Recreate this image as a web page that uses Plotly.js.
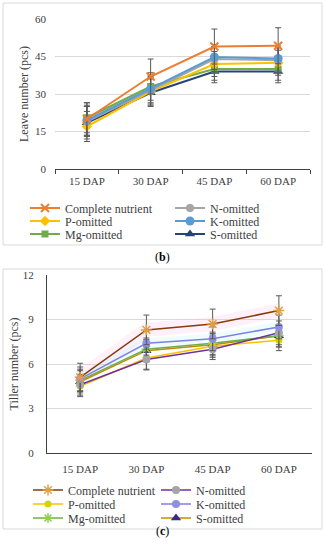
<!DOCTYPE html>
<html>
<head>
<meta charset="utf-8">
<script src="https://cdn.plot.ly/plotly-3.0.1.min.js"></script>
<style>html,body{margin:0;padding:0;background:#fff;}#chart{width:325px;height:550px;}</style>
</head>
<body>
<div id="chart"></div>
<script>
// ---- data ----
const categories = ["15 DAP", "30 DAP", "45 DAP", "60 DAP"];
const seriesNames = ["Complete nutrient", "N-omitted", "P-omitted", "K-omitted", "Mg-omitted", "S-omitted"];

// (b) Leave number (pcs)
const leafComplete = [20.0, 37.0, 49.0, 49.3];
const leafN        = [19.0, 31.5, 44.0, 43.5];
const leafP        = [17.0, 31.0, 42.0, 42.5];
const leafK        = [19.5, 32.0, 44.8, 44.2];
const leafMg       = [20.5, 33.0, 40.0, 40.0];
const leafS        = [18.5, 30.5, 39.0, 39.0];
const leafErrComplete = [6.5, 7.0, 7.0, 7.2];
const leafErrN        = [6.0, 5.5, 5.0, 5.0];
const leafErrP        = [6.0, 5.5, 5.0, 5.0];
const leafErrK        = [6.0, 5.5, 5.0, 5.0];
const leafErrMg       = [6.0, 5.5, 4.5, 4.5];
const leafErrS        = [6.5, 5.5, 4.5, 4.5];

// (c) Tiller number (pcs)
const tilComplete = [5.1, 8.3, 8.7, 9.6];
const tilN        = [4.6, 6.3, 7.0, 8.1];
const tilP        = [4.5, 6.4, 7.2, 7.6];
const tilK        = [5.0, 7.4, 7.7, 8.5];
const tilMg       = [4.9, 7.0, 7.4, 7.9];
const tilS        = [4.8, 6.9, 7.3, 7.9];
const tilErrComplete = [0.95, 1.0, 1.0, 1.0];
const tilErrN        = [0.7, 0.7, 0.7, 0.8];
const tilErrP        = [0.7, 0.75, 0.75, 0.7];
const tilErrK        = [0.8, 0.8, 0.8, 0.8];
const tilErrMg       = [0.75, 0.75, 0.75, 0.75];
const tilErrS        = [0.75, 0.75, 0.75, 0.75];

const leafTicks = [0, 15, 30, 45, 60];
const tilTicks = [0, 3, 6, 9, 12];

// ---- styles ----
const W = 325, H = 550;
const px = v => v / W;
const py = v => 1 - v / H;
const serif = "Liberation Serif, DejaVu Serif, serif";
const errStyle = arr => ({type: "data", array: arr, visible: true, color: "#595959", thickness: 1, width: 3});

const leafStyles = [
  {line: "#ED7D31", marker: {symbol: "x-thin-open", color: "#ED7D31", size: 8, line: {width: 2, color: "#ED7D31"}}},
  {line: "#A5A5A5", marker: {symbol: "circle", color: "#A5A5A5", size: 8}},
  {line: "#FFC000", marker: {symbol: "diamond", color: "#FFC000", size: 8}},
  {line: "#5B9BD5", marker: {symbol: "circle", color: "#5B9BD5", size: 9}},
  {line: "#70AD47", marker: {symbol: "square", color: "#70AD47", size: 7}},
  {line: "#264478", marker: {symbol: "triangle-up", color: "#264478", size: 9}}
];
const tilStyles = [
  {line: "#843C0C", marker: {symbol: "asterisk-open", color: "#E0A040", size: 9, line: {width: 1.5, color: "#E0A040"}}},
  {line: "#7030A0", marker: {symbol: "circle", color: "#A5A5A5", size: 8}},
  {line: "#FFC000", marker: {symbol: "circle", color: "#D4D400", size: 7}},
  {line: "#8080E0", marker: {symbol: "circle", color: "#8F8FE0", size: 8}},
  {line: "#70AD47", marker: {symbol: "asterisk-open", color: "#92D050", size: 8, line: {width: 1.5, color: "#92D050"}}},
  {line: "#BF8F00", marker: {symbol: "triangle-up", color: "#2F2F80", size: 9}}
];

const leafData = [leafComplete, leafN, leafP, leafK, leafMg, leafS];
const leafErr = [leafErrComplete, leafErrN, leafErrP, leafErrK, leafErrMg, leafErrS];
const tilData = [tilComplete, tilN, tilP, tilK, tilMg, tilS];
const tilErr = [tilErrComplete, tilErrN, tilErrP, tilErrK, tilErrMg, tilErrS];

// legend rows: each row is its own legend (two entries per row)
const leafLegendOf = ["legend", "legend", "legend3", "legend3", "legend4", "legend4"];
const tilLegendOf  = ["legend2", "legend2", "legend5", "legend5", "legend6", "legend6"];
const leafEntryW = [100, 60, 100, 60, 100, 60];
const tilEntryW  = [83, 60, 83, 60, 83, 60];

const traces = [];
// soft glow behind (c) lines
traces.push({x: categories, y: tilComplete, xaxis: "x2", yaxis: "y2", mode: "lines", showlegend: false, hoverinfo: "skip",
  line: {color: "rgba(255,170,230,0.18)", width: 14}});
traces.push({x: categories, y: tilK, xaxis: "x2", yaxis: "y2", mode: "lines", showlegend: false, hoverinfo: "skip",
  line: {color: "rgba(170,240,245,0.2)", width: 10}});

const order = [5, 4, 2, 1, 3, 0];
order.forEach(i => {
  traces.push({
    x: categories, y: leafData[i], name: seriesNames[i], type: "scatter", mode: "lines+markers",
    xaxis: "x", yaxis: "y", legend: leafLegendOf[i], legendrank: i + 1, legendwidth: leafEntryW[i],
    line: {color: leafStyles[i].line, width: 2},
    marker: leafStyles[i].marker,
    error_y: errStyle(leafErr[i])
  });
});
order.forEach(i => {
  traces.push({
    x: categories, y: tilData[i], name: seriesNames[i], type: "scatter", mode: "lines+markers",
    xaxis: "x2", yaxis: "y2", legend: tilLegendOf[i], legendrank: i + 1, legendwidth: tilEntryW[i],
    line: {color: tilStyles[i].line, width: 1.5},
    marker: tilStyles[i].marker,
    error_y: errStyle(tilErr[i])
  });
});

const tickFont = {family: serif, size: 11, color: "#404040"};
const legendFont = {family: serif, size: 12, color: "#404040"};
const rowLegend = (x, y) => ({
  orientation: "h", x: px(x), y: py(y), xanchor: "left", yanchor: "middle",
  entrywidthmode: "pixels", font: legendFont, bgcolor: "rgba(0,0,0,0)",
  itemwidth: 30, traceorder: "normal"
});

const layout = {
  width: W, height: H,
  margin: {l: 0, r: 0, t: 0, b: 0},
  paper_bgcolor: "#fff", plot_bgcolor: "rgba(0,0,0,0)",
  showlegend: true,
  font: {family: serif, color: "#404040"},
  xaxis: {
    domain: [px(55), px(310)], anchor: "y", type: "category", categoryarray: categories, range: [-0.5, 3.5],
    showgrid: false, showline: true, linecolor: "#404040", linewidth: 1,
    ticks: "outside", tickson: "boundaries", ticklen: 4, tickcolor: "#404040",
    tickfont: tickFont, ticklabelstandoff: 2
  },
  yaxis: {
    domain: [py(169), py(19)], anchor: "x", range: [0, 60], tickvals: leafTicks, ticktext: leafTicks.map(String),
    showgrid: true, gridcolor: "#D9D9D9", zeroline: false, showline: false, ticks: "",
    ticklabelstandoff: 8, tickfont: tickFont,
    title: {text: "Leave number (pcs)", standoff: 3, font: {family: serif, size: 12, color: "#404040"}}
  },
  xaxis2: {
    domain: [px(47), px(312)], anchor: "y2", type: "category", categoryarray: categories, range: [-0.5, 3.5],
    showgrid: false, showline: true, linecolor: "#404040", linewidth: 1,
    ticks: "", tickfont: tickFont, ticklabelstandoff: 6
  },
  yaxis2: {
    domain: [py(453), py(275)], anchor: "x2", range: [0, 12], tickvals: tilTicks, ticktext: tilTicks.map(String),
    showgrid: true, gridcolor: "#D9D9D9", zeroline: false, showline: true, linecolor: "#404040", linewidth: 1,
    ticks: "", ticklabelstandoff: 10, tickfont: tickFont,
    title: {text: "Tiller number (pcs)", standoff: 1, font: {family: serif, size: 12, color: "#404040"}}
  },
  legend:  rowLegend(25, 208),
  legend3: rowLegend(25, 221),
  legend4: rowLegend(25, 234),
  legend2: rowLegend(28, 490),
  legend5: rowLegend(28, 504),
  legend6: rowLegend(28, 518),
  shapes: [
    {type: "rect", xref: "paper", yref: "paper", x0: px(3), x1: px(322), y0: py(245), y1: py(3), line: {color: "#D9D9D9", width: 1}},
    {type: "rect", xref: "paper", yref: "paper", x0: px(3), x1: px(322), y0: py(529), y1: py(269), line: {color: "#D9D9D9", width: 1}}
  ],
  annotations: [
    {text: "(<b>b</b>)", xref: "paper", yref: "paper", x: 0.5, y: py(257), showarrow: false, font: {family: serif, size: 12, color: "#000"}},
    {text: "(<b>c</b>)", xref: "paper", yref: "paper", x: 0.5, y: py(540), showarrow: false, font: {family: serif, size: 12, color: "#000"}}
  ]
};

Plotly.newPlot("chart", traces, layout, {displayModeBar: false, staticPlot: true});
</script>
</body>
</html>
